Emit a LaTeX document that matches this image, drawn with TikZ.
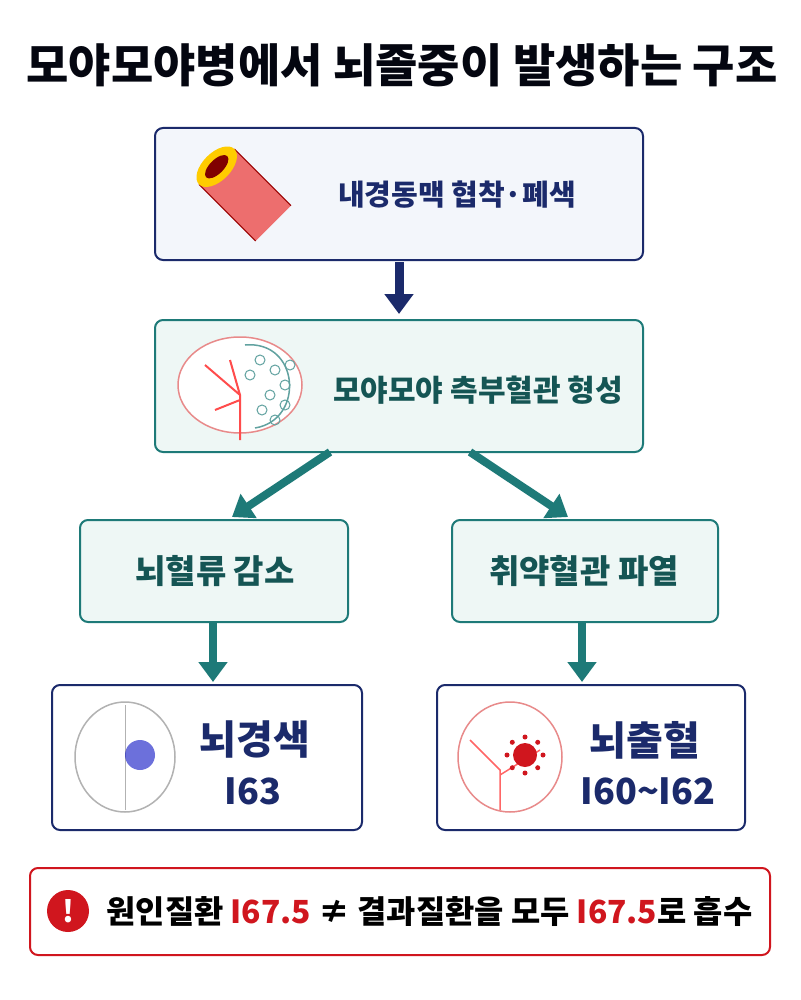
\documentclass[tikz,border=0pt]{standalone}
\usepackage{fontspec}
\setmainfont{Noto Sans CJK KR}
\usetikzlibrary{arrows.meta,calc}
\definecolor{navy}{HTML}{1B2A6B}
\definecolor{teal}{HTML}{1E7A78}
\definecolor{dred}{HTML}{D0161E}
\definecolor{bfill}{HTML}{F3F6FB}
\definecolor{tfill}{HTML}{EEF7F5}
\definecolor{pink}{HTML}{E88A8A}
\tikzset{
 box/.style={draw, line width=2pt, rounded corners=8pt},
 nbox/.style={box, draw=navy, fill=bfill},
 tbox/.style={box, draw=teal, fill=tfill},
 txt/.style={font=\bfseries\fontsize{29}{32}\selectfont, text=navy},
 ttxt/.style={font=\bfseries\fontsize{30}{32}\selectfont, text=teal!70!black},
 mtxt/.style={font=\bfseries\fontsize{33}{36}\selectfont, text=teal!70!black},
 big/.style={font=\bfseries\fontsize{40}{44}\selectfont, text=navy},
 code/.style={font=\bfseries\fontsize{36}{40}\selectfont, text=navy},
 narr/.style={-{Triangle[length=20pt,width=28pt]}, line width=9pt, draw=navy},
 tarr/.style={-{Triangle[length=20pt,width=28pt]}, line width=8pt, draw=teal},
}
\begin{document}
\begin{tikzpicture}[x=1pt,y=-1pt]
\useasboundingbox (0,0) rectangle (800,1000);
\fill[white] (0,0) rectangle (800,1000);
\node (title) at (402,65) {\bfseries\fontsize{46}{50}\selectfont\color{black!85!navy}모야모야병에서 뇌졸중이 발생하는 구조};
% boxes
\draw[nbox] (155,128) rectangle (643,260);
\draw[tbox] (155,320) rectangle (643,452);
\draw[tbox] (80,520) rectangle (348,622);
\draw[tbox] (452,520) rectangle (718,622);
\draw[nbox,fill=white] (52,685) rectangle (362,830);
\draw[nbox,fill=white] (437,685) rectangle (745,830);
\draw[box,draw=dred,fill=white] (30,868) rectangle (770,955);
% texts
\node[txt] (t1) at (457,195) {내경동맥 협착·폐색};
\node[ttxt] (t2) at (478,390) {모야모야 측부혈관 형성};
\node[mtxt] (t3) at (215,571) {뇌혈류 감소};
\node[mtxt] (t4) at (584,571) {취약혈관 파열};
\node[big] (t5) at (255,740) {뇌경색};
\node[code] (c5) at (253,791) {I63};
\node[big] (t6) at (645,740) {뇌출혈};
\node[code] (c6) at (648,791) {I60\textasciitilde I62};
% arrows
\coordinate (a1s) at (399,262); \coordinate (a1e) at (399,314);
\draw[narr] (a1s) -- (a1e);
\coordinate (a2s) at (330,452); \coordinate (a2e) at (232,517);
\coordinate (a3s) at (470,452); \coordinate (a3e) at (568,517);
\draw[tarr] (a2s) -- (a2e);
\draw[tarr] (a3s) -- (a3e);
\coordinate (a4s) at (213,622); \coordinate (a4e) at (213,682);
\coordinate (a5s) at (582,622); \coordinate (a5e) at (582,682);
\draw[tarr] (a4s) -- (a4e);
\draw[tarr] (a5s) -- (a5e);
% artery icon
\begin{scope}[rotate around={-45:(245,195)}]
\fill[pink!80!red] (205,170) rectangle (285,220);
\draw[red!60!black,line width=1pt] (205,170) -- (285,170) (205,220) -- (285,220);
\fill[orange!40!yellow] (205,195) ellipse (14 and 25);
\fill[red!50!black] (205,195) ellipse (7 and 15);
\end{scope}
% brain icon (collateral)
\draw[pink,line width=1.5pt,fill=white] (240,385) ellipse (62 and 48);
\draw[teal!70,line width=1.5pt] (245,345) .. controls (300,340) and (305,420) .. (255,428);
\foreach \p in {(260,360),(275,370),(285,385),(270,395),(285,405),(262,410),(250,375),(290,365),(275,420)}
  \draw[teal!70,line width=1pt] \p circle (5);
\draw[red!70,line width=2pt] (240,440) -- (240,395) -- (205,365) (240,400) -- (215,410) (240,395) -- (230,360);
% left brain
\draw[gray!60,line width=1.5pt,fill=white] (125,757) ellipse (50 and 55);
\draw[gray!60,line width=1pt] (125,705) -- (125,810);
\fill[blue!60!navy,opacity=0.6] (140,755) circle (15);
% right brain
\draw[pink,line width=1.5pt,fill=white] (510,757) ellipse (52 and 55);
\draw[red!60,line width=1.5pt] (500,810) -- (500,770) -- (470,740) (500,775) -- (540,750);
\fill[dred] (525,755) circle (12);
\foreach \a in {0,45,...,315} \fill[dred] ($(525,755)+(\a:18)$) circle (2.5);
% banner
\node[circle,fill=dred,minimum size=42pt,inner sep=0pt] (ex) at (68,911) {};
\node[text=white,font=\bfseries\fontsize{30}{30}\selectfont] at (ex) {!};
\node[font=\bfseries\fontsize{31.8}{36}\selectfont,anchor=west] (bt) at (103,911)
 {원인질환 \textcolor{dred}{I67.5} ≠ 결과질환을 모두 \textcolor{dred}{I67.5}로 흡수};
\end{tikzpicture}
\end{document}
